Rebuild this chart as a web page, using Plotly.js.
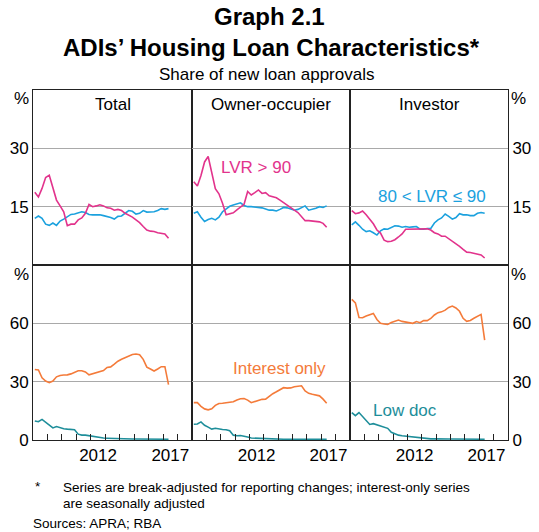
<!DOCTYPE html>
<html>
<head>
<meta charset="utf-8">
<script src="https://cdn.plot.ly/plotly-3.0.1.min.js"></script>
<style>
  html, body { margin: 0; padding: 0; background: #fff; }
  #chart { width: 539px; height: 532px; }
</style>
</head>
<body>
<div id="chart"></div>
<script>
// quarterly observations, Mar 2008 to Jun 2017
const quarters = Array.from({ length: 38 }, (_, i) => 2008.125 + 0.25 * i);

// top row: share with LVR > 90 and 80 < LVR <= 90 (%)
const totalLvr90 = [18.7, 17.5, 19.7, 22.5, 23.1, 20.1, 16.7, 15.2, 13.7, 10.1, 10.5, 10.5, 11.6, 12.1, 13.3, 15.6, 15.0, 15.2, 15.5, 15.2, 14.7, 14.6, 14.1, 14.3, 14.0, 13.3, 12.9, 12.3, 11.6, 10.9, 9.9, 9.0, 8.7, 8.6, 8.3, 8.1, 8.0, 6.9];
const totalLvr8090 = [12.0, 12.6, 12.0, 10.5, 10.2, 10.8, 10.2, 11.3, 11.8, 12.5, 13.0, 13.1, 13.4, 13.7, 13.5, 13.0, 12.9, 12.9, 12.9, 12.7, 12.5, 12.2, 11.8, 12.5, 12.6, 13.2, 14.0, 13.8, 13.1, 13.3, 14.0, 13.6, 13.6, 13.7, 14.0, 14.5, 14.3, 14.5];
const ownerLvr90 = [21.4, 20.3, 23.0, 26.5, 27.9, 23.6, 19.6, 18.3, 15.9, 12.9, 13.1, 13.4, 14.2, 14.8, 15.6, 18.9, 18.0, 18.6, 19.3, 18.4, 18.6, 17.8, 17.6, 17.3, 16.7, 16.0, 15.5, 14.8, 14.1, 13.5, 12.4, 11.4, 11.4, 11.3, 11.2, 11.1, 10.7, 9.7];
const ownerLvr8090 = [13.3, 13.7, 12.3, 11.2, 11.7, 12.0, 11.6, 12.3, 13.7, 14.3, 15.1, 15.4, 15.7, 16.0, 15.3, 15.0, 15.0, 14.9, 14.8, 14.7, 14.4, 14.1, 14.1, 13.9, 14.3, 14.8, 14.7, 14.4, 14.1, 14.3, 14.8, 15.2, 14.1, 14.3, 14.6, 15.0, 14.8, 15.2];
const investorLvr90 = [14.0, 13.2, 13.4, 13.9, 12.9, 11.7, 10.6, 9.0, 8.2, 6.4, 6.0, 6.1, 6.5, 7.2, 8.0, 9.2, 9.2, 9.2, 9.2, 9.2, 9.3, 9.3, 9.0, 8.3, 8.0, 7.4, 7.4, 6.8, 6.1, 5.5, 4.8, 4.0, 3.3, 3.2, 3.0, 2.9, 2.6, 1.8];
const investorLvr8090 = [10.3, 11.1, 10.2, 9.2, 8.6, 8.8, 8.3, 7.7, 8.8, 9.3, 9.2, 9.6, 10.1, 10.0, 9.7, 9.9, 9.7, 9.8, 9.9, 9.2, 9.2, 9.4, 9.4, 10.8, 11.6, 12.1, 13.1, 12.5, 11.8, 12.2, 13.2, 12.9, 12.9, 12.7, 12.7, 13.3, 13.5, 13.3];

// bottom row: interest only and low doc (%)
const totalIO = [36.3, 36.0, 32.0, 30.3, 29.5, 30.3, 32.5, 33.2, 33.4, 33.5, 34.0, 35.0, 35.6, 35.6, 35.0, 33.5, 34.0, 34.8, 35.2, 35.7, 37.3, 37.6, 39.0, 40.5, 41.5, 42.3, 43.5, 44.0, 44.2, 43.8, 41.5, 37.5, 36.5, 35.5, 36.5, 37.7, 37.7, 28.5];
const totalLowDoc = [9.8, 9.4, 10.6, 9.0, 7.5, 6.2, 6.9, 6.2, 5.8, 5.6, 5.5, 5.3, 3.0, 2.5, 2.5, 2.2, 1.8, 1.4, 1.2, 1.0, 0.9, 0.8, 0.7, 0.6, 0.6, 0.5, 0.5, 0.5, 0.5, 0.5, 0.5, 0.5, 0.4, 0.4, 0.4, 0.4, 0.4, 0.4];
const ownerIO = [19.2, 19.2, 17.3, 16.0, 15.5, 16.0, 17.8, 18.8, 18.9, 19.1, 19.5, 19.7, 20.6, 21.2, 21.3, 20.5, 19.2, 19.8, 20.6, 20.9, 21.0, 22.5, 23.8, 24.8, 25.8, 26.9, 26.7, 26.8, 27.4, 27.8, 27.9, 25.2, 24.0, 23.5, 23.1, 22.7, 21.0, 18.9];
const ownerLowDoc = [8.1, 8.2, 9.3, 7.6, 6.6, 5.6, 6.0, 5.6, 5.4, 5.3, 4.8, 2.5, 2.2, 2.3, 2.0, 1.5, 1.0, 0.9, 0.8, 0.7, 0.6, 0.5, 0.5, 0.5, 0.5, 0.4, 0.4, 0.4, 0.4, 0.4, 0.4, 0.4, 0.4, 0.4, 0.4, 0.4, 0.4, 0.4];
const investorIO = [72.3, 70.5, 63.0, 62.9, 63.8, 64.6, 65.1, 62.0, 60.0, 59.7, 59.4, 60.4, 60.9, 61.7, 61.0, 60.7, 60.3, 60.0, 60.9, 60.3, 61.4, 61.4, 62.5, 64.3, 65.5, 65.9, 66.8, 68.2, 68.9, 67.9, 66.2, 62.6, 61.0, 61.5, 62.6, 63.8, 64.6, 51.4];
const investorLowDoc = [14.1, 12.5, 14.1, 12.0, 10.0, 8.0, 8.4, 7.8, 6.9, 6.4, 6.0, 4.0, 3.2, 2.5, 2.2, 2.0, 1.7, 1.4, 1.1, 0.9, 0.8, 0.7, 0.6, 0.6, 0.5, 0.5, 0.5, 0.5, 0.5, 0.5, 0.5, 0.4, 0.4, 0.4, 0.4, 0.4, 0.4, 0.4];

const panelTitles = ["Total", "Owner-occupier", "Investor"];
const yearTicks = [2009, 2010, 2011, 2012, 2013, 2014, 2015, 2016, 2017, 2018];
const yearLabels = ["2012", "2017"];
const topTicks = [15, 30];
const bottomTicks = [0, 30, 60];

const PINK = "#e2338c";
const BLUE = "#1ba1de";
const ORANGE = "#f47b3a";
const TEAL = "#1e8e9a";
const FONT = "Liberation Sans, Arial, sans-serif";

const W = 539, H = 532;
const px = x => x / W;
const py = y => (H - y) / H;

const colEdges = [33, 192, 350, 508];
const topRow = [py(265), py(90)];
const bottomRow = [py(440), py(265)];

const line = (y, color, axisIdx) => ({
    x: quarters,
    y,
    type: "scatter",
    mode: "lines",
    line: { color, width: 1.6 },
    xaxis: "x" + (axisIdx === 1 ? "" : axisIdx),
    yaxis: "y" + (axisIdx === 1 ? "" : axisIdx),
    hoverinfo: "skip",
    showlegend: false
});

const data = [
    line(totalLvr8090, BLUE, 1), line(totalLvr90, PINK, 1),
    line(ownerLvr8090, BLUE, 2), line(ownerLvr90, PINK, 2),
    line(investorLvr8090, BLUE, 3), line(investorLvr90, PINK, 3),
    line(totalLowDoc, TEAL, 4), line(totalIO, ORANGE, 4),
    line(ownerLowDoc, TEAL, 5), line(ownerIO, ORANGE, 5),
    line(investorLowDoc, TEAL, 6), line(investorIO, ORANGE, 6)
];

const tickFont = { family: FONT, size: 17, color: "#000" };
const layout = {
    width: W,
    height: H,
    margin: { l: 0, r: 0, t: 0, b: 0 },
    paper_bgcolor: "#fff",
    plot_bgcolor: "#fff",
    font: { family: FONT, color: "#000" },
    showlegend: false,
    annotations: []
};

for (let i = 1; i <= 6; i++) {
    const col = (i - 1) % 3;
    const isTop = i <= 3;
    const suffix = i === 1 ? "" : i;
    const xa = {
        domain: [px(colEdges[col]), px(colEdges[col + 1])],
        anchor: "y" + suffix,
        range: [2008, 2019],
        showgrid: false,
        zeroline: false,
        showline: true,
        mirror: true,
        linecolor: "#222",
        linewidth: 1,
        fixedrange: true
    };
    if (isTop) {
        xa.showticklabels = false;
        xa.ticks = "";
    } else {
        Object.assign(xa, {
            tickmode: "array",
            tickvals: [2012.5, 2017.5],
            ticktext: yearLabels,
            ticks: "",
            tickfont: tickFont,
            minor: {
                tickmode: "array",
                tickvals: yearTicks,
                ticks: "inside",
                ticklen: 6,
                tickwidth: 1,
                tickcolor: "#222",
                showgrid: false
            }
        });
    }
    const ya = {
        domain: isTop ? topRow : bottomRow,
        anchor: "x" + suffix,
        range: isTop ? [0, 45] : [0, 90],
        tickmode: "array",
        tickvals: isTop ? topTicks : bottomTicks,
        showgrid: true,
        gridcolor: "#a9a9a9",
        gridwidth: 1,
        zeroline: false,
        showline: true,
        mirror: true,
        linecolor: "#222",
        linewidth: 1,
        ticks: "",
        tickfont: tickFont,
        showticklabels: col !== 1,
        side: col === 2 ? "right" : "left",
        fixedrange: true
    };
    layout["xaxis" + suffix] = xa;
    layout["yaxis" + suffix] = ya;
}

const note = (text, x, y, opts = {}) => layout.annotations.push(Object.assign({
    text,
    x: px(x),
    y: py(y),
    xref: "paper",
    yref: "paper",
    showarrow: false,
    xanchor: "center",
    yanchor: "middle",
    font: { family: FONT, size: 17, color: "#000" }
}, opts));

// titles
note("<b>Graph 2.1</b>", 269, 17, { font: { family: FONT, size: 24, color: "#000" } });
note("<b>ADIs’ Housing Loan Characteristics*</b>", 271, 47, { font: { family: FONT, size: 24, color: "#000" } });
note("Share of new loan approvals", 266, 75, { font: { family: FONT, size: 17, color: "#000" } });

// panel titles
panelTitles.forEach((t, i) => note(t, (colEdges[i] + colEdges[i + 1]) / 2, 104));

// unit labels
note("%", 21, 99);
note("%", 21, 274);
note("%", 518, 99);
note("%", 518, 274);

// series labels, placed in data coordinates of their panel
const seriesLabel = (text, color, axisIdx, x, y) => layout.annotations.push({
    text,
    x,
    y,
    xref: "x" + axisIdx,
    yref: "y" + axisIdx,
    showarrow: false,
    xanchor: "center",
    yanchor: "middle",
    font: { family: FONT, size: 17, color }
});
seriesLabel("LVR &gt; 90", PINK, 2, 2012.45, 25.2);
seriesLabel("80 &lt; LVR ≤ 90", BLUE, 3, 2013.7, 17.5);
seriesLabel("Interest only", ORANGE, 5, 2014.1, 37);
seriesLabel("Low doc", TEAL, 6, 2011.8, 15.4);

// footnotes
const small = { family: FONT, size: 13.5, color: "#000" };
note("*", 33, 486, { xanchor: "left", font: small });
note("Series are break-adjusted for reporting changes; interest-only series", 61, 487, { xanchor: "left", font: small });
note("are seasonally adjusted", 61, 503, { xanchor: "left", font: small });
note("Sources: APRA; RBA", 31, 523, { xanchor: "left", font: small });

Plotly.newPlot("chart", data, layout, { staticPlot: true, displayModeBar: false });
</script>
</body>
</html>
